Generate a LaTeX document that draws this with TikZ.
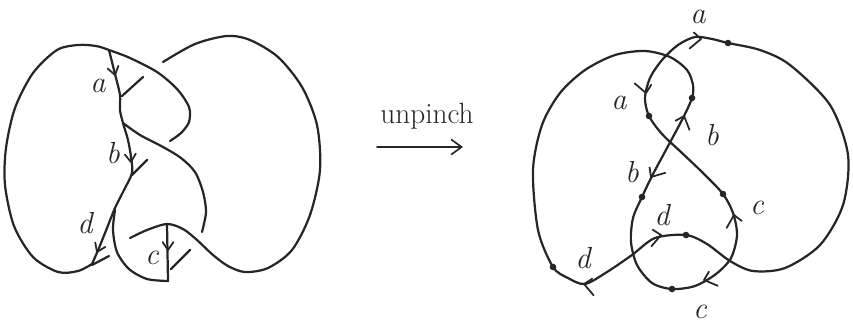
\documentclass[tikz,border=0pt]{standalone}
\usepackage{fontspec}
\usepackage{tikz}
\usetikzlibrary{arrows.meta}

\tikzset{
  knot/.style={line width=1.9pt, draw=black!85, line cap=round, line join=round},
  spot/.style={fill=black!85},
  lbl/.style={font=\fontsize{26}{30}\selectfont\itshape, text=black!85, inner sep=0pt},
}
% small arrow marks on the curves: tip, direction, side of the long barb
\newcommand{\chev}[2]{%
  \draw[knot, line width=1.5pt, shift={(#1)}, x=0.03cm, y=0.03cm, rotate=#2]
    (-8,5.5) -- (0,0) -- (-8,-5.5);}
\newcommand{\hchev}[3]{%
  \draw[knot, line width=1.5pt, shift={(#1)}, x=0.03cm, y=0.03cm, rotate=#2]
    (-8,{-5.5*(#3)}) -- (0,0) -- (-10,{11*(#3)});}

\begin{document}
\begin{tikzpicture}[x=0.03cm, y=-0.03cm]
\useasboundingbox (0,0) rectangle (853,326);

% left: the pinched curve
\coordinate (J1) at (109,50);
\coordinate (J2) at (123,123);
\draw[knot] plot[smooth] coordinates {(92,264) (78,271) (58,272) (33,257) (14,226) (5,185) (6,148) (15,108) (33,73) (57,50) (78,45) (96,46) (J1) (130,58) (157,72) (177,89) (189,107) (189,122) (181,133) (170,141)};
\draw[knot] plot[smooth] coordinates {(J1) (112,62) (116,78) (120,95) (120,110) (J2) (128,140) (131,157) (132,173) (124,190) (115,208) (107,228) (99,248) (92,264)};
\draw[knot] plot[smooth] coordinates {(J2) (140,135) (163,147) (181,158) (195,172) (203,192) (206,212) (202,232)};
\draw[knot] plot[smooth] coordinates {(130,238) (147,230) (167,224) (183,229) (197,240) (213,255) (228,266) (245,272) (268,268) (292,250) (310,215) (320,170) (317,125) (302,87) (278,57) (250,40) (227,36) (195,44) (163,62)};
\draw[knot] plot[smooth] coordinates {(115,210) (113,230) (117,252) (129,269) (147,279) (168,281)} -- (167,224);

\chev{115,75}{-76}
\chev{131,162}{-85}
\chev{97,252}{-114}
\chev{168,250}{-90}
\draw[knot] (122,96) -- (143,77);
\draw[knot] (132,175) -- (147,160);
\draw[knot] (92,265) -- (109,256);
\draw[knot] (171,269) -- (190,250);

\node[lbl] (la) at (98,86) {a};
\node[lbl] (lb) at (113,153) {b};
\node[lbl] (ld) at (85,223) {d};
\node[lbl] (lc) at (152,258) {c};

% middle: the move
\node[font=\fontsize{25}{30}\selectfont, text=black!85, anchor=base] (un) at (427,123) {unpinch};
\coordinate (u0) at (377,147);
\coordinate (u1) at (463,147);
\draw[knot, line width=1.4pt, -{Straight Barb[length=9pt,width=13pt]}] (u0) -- (u1);

% right: the unpinched curve
\coordinate (T)  at (728,43);
\coordinate (A1) at (649,116);
\coordinate (A2) at (692,98);
\coordinate (B1) at (642,197);
\coordinate (C1) at (723,194);
\coordinate (C2) at (672,289);
\coordinate (D1) at (553,267);
\coordinate (D2) at (686,235);
\draw[knot] plot[smooth cycle] coordinates {(T) (712,39) (695,37) (678,45) (662,60) (650,78) (645,98) (A1) (662,134) (682,153) (703,173) (C1) (733,213) (737,235) (731,258) (716,274) (695,286) (C2) (652,283) (637,265) (631,242) (633,218) (B1) (652,176) (667,148) (683,118) (A2) (693,85) (687,70) (670,57) (645,51) (615,55) (585,70) (560,93) (542,125) (533,170) (538,230) (D1) (568,278) (585,284) (607,272) (632,255) (655,238) (D2) (707,244) (730,261) (753,271) (785,268) (820,245) (843,205) (848,155) (830,105) (790,65) (760,50)};
\foreach \p in {T,A1,A2,B1,C1,C2,D1,D2}
  \fill[spot] (\p) circle[radius=3.3];

\hchev{701,39}{-8}{-1}
\hchev{646,93}{-88}{-1}
\hchev{684,116}{64}{-1}
\hchev{651,177}{-116}{1}
\hchev{734,215}{108}{1}
\hchev{704,280}{-155}{1}
\hchev{661,235}{2}{-1}
\hchev{584,284}{178}{1}

\node[lbl] (ra1) at (698,17) {a};
\node[lbl] (ra2) at (619,103) {a};
\node[lbl] (rb1) at (712,135) {b};
\node[lbl] (rb2) at (632,172) {b};
\node[lbl] (rc1) at (757,208) {c};
\node[lbl] (rc2) at (700,312) {c};
\node[lbl] (rd1) at (662,215) {d};
\node[lbl] (rd2) at (583,258) {d};
\end{tikzpicture}
\end{document}
